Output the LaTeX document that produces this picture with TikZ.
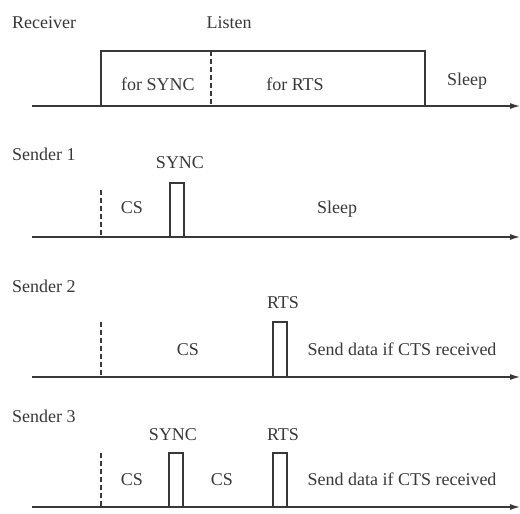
\documentclass[tikz,border=0pt]{standalone}
\usepackage{fontspec}
\setmainfont{Liberation Serif}
\usepackage{xcolor}
\usepackage{tikz}
\usetikzlibrary{arrows.meta}
\definecolor{encre}{gray}{0.22}
\tikzset{
  txt/.style={inner sep=0pt, anchor=base, text=encre, font=\fontsize{18}{20}\selectfont},
  titre/.style={txt, anchor=base west},
  axe/.style={draw=encre, line width=1.2pt, -{Latex[length=10pt,width=6pt]}},
  trait/.style={draw=encre, line width=1.1pt},
  tirets/.style={draw=encre, line width=1.1pt, dash pattern=on 5pt off 3pt}
}
\begin{document}
\begin{tikzpicture}[x=1pt,y=-1pt]
        \useasboundingbox (0,0) rectangle (520,514);

        % Récepteur
        \node[titre] (recv) at (12,28) {Receiver};
        \node[txt] (listen) at (229,28) {Listen};
        \coordinate (r0) at (32,106);
        \coordinate (r1) at (520,106);
        \draw[axe] (r0) -- (r1);
        \draw[trait] (101,106) -- (101,51) -- (425,51) -- (425,106);
        \draw[tirets] (211,51) -- (211,106);
        \node[txt] (rsync) at (158,90) {for SYNC};
        \node[txt] (rrts) at (295,90) {for RTS};
        \node[txt] (rsleep) at (467,85) {Sleep};

        % Émetteur 1
        \node[titre] (s1) at (12,160) {Sender 1};
        \coordinate (a0) at (32,237);
        \coordinate (a1) at (520,237);
        \draw[axe] (a0) -- (a1);
        \draw[tirets] (101,190) -- (101,237);
        \draw[trait] (170,237) -- (170,183) -- (184,183) -- (184,237);
        \node[txt] (async) at (180,168) {SYNC};
        \node[txt] (acs) at (132,213) {CS};
        \node[txt] (asleep) at (337,213) {Sleep};

        % Émetteur 2
        \node[titre] (s2) at (12,292) {Sender 2};
        \coordinate (b0) at (32,377);
        \coordinate (b1) at (520,377);
        \draw[axe] (b0) -- (b1);
        \draw[tirets] (101,322) -- (101,377);
        \draw[trait] (273,377) -- (273,322) -- (287,322) -- (287,377);
        \node[txt] (brts) at (283,308) {RTS};
        \node[txt] (bcs) at (188,355) {CS};
        \node[txt] (bdata) at (402,355) {Send data if CTS received};

        % Émetteur 3
        \node[titre] (s3) at (12,422) {Sender 3};
        \coordinate (c0) at (32,507);
        \coordinate (c1) at (520,507);
        \draw[axe] (c0) -- (c1);
        \draw[tirets] (101,453) -- (101,507);
        \draw[trait] (169,507) -- (169,453) -- (183,453) -- (183,507);
        \draw[trait] (273,507) -- (273,453) -- (287,453) -- (287,507);
        \node[txt] (csync) at (173,440) {SYNC};
        \node[txt] (crts) at (283,440) {RTS};
        \node[txt] (ccs1) at (132,485) {CS};
        \node[txt] (ccs2) at (222,485) {CS};
        \node[txt] (cdata) at (402,485) {Send data if CTS received};
    \end{tikzpicture}
\end{document}
